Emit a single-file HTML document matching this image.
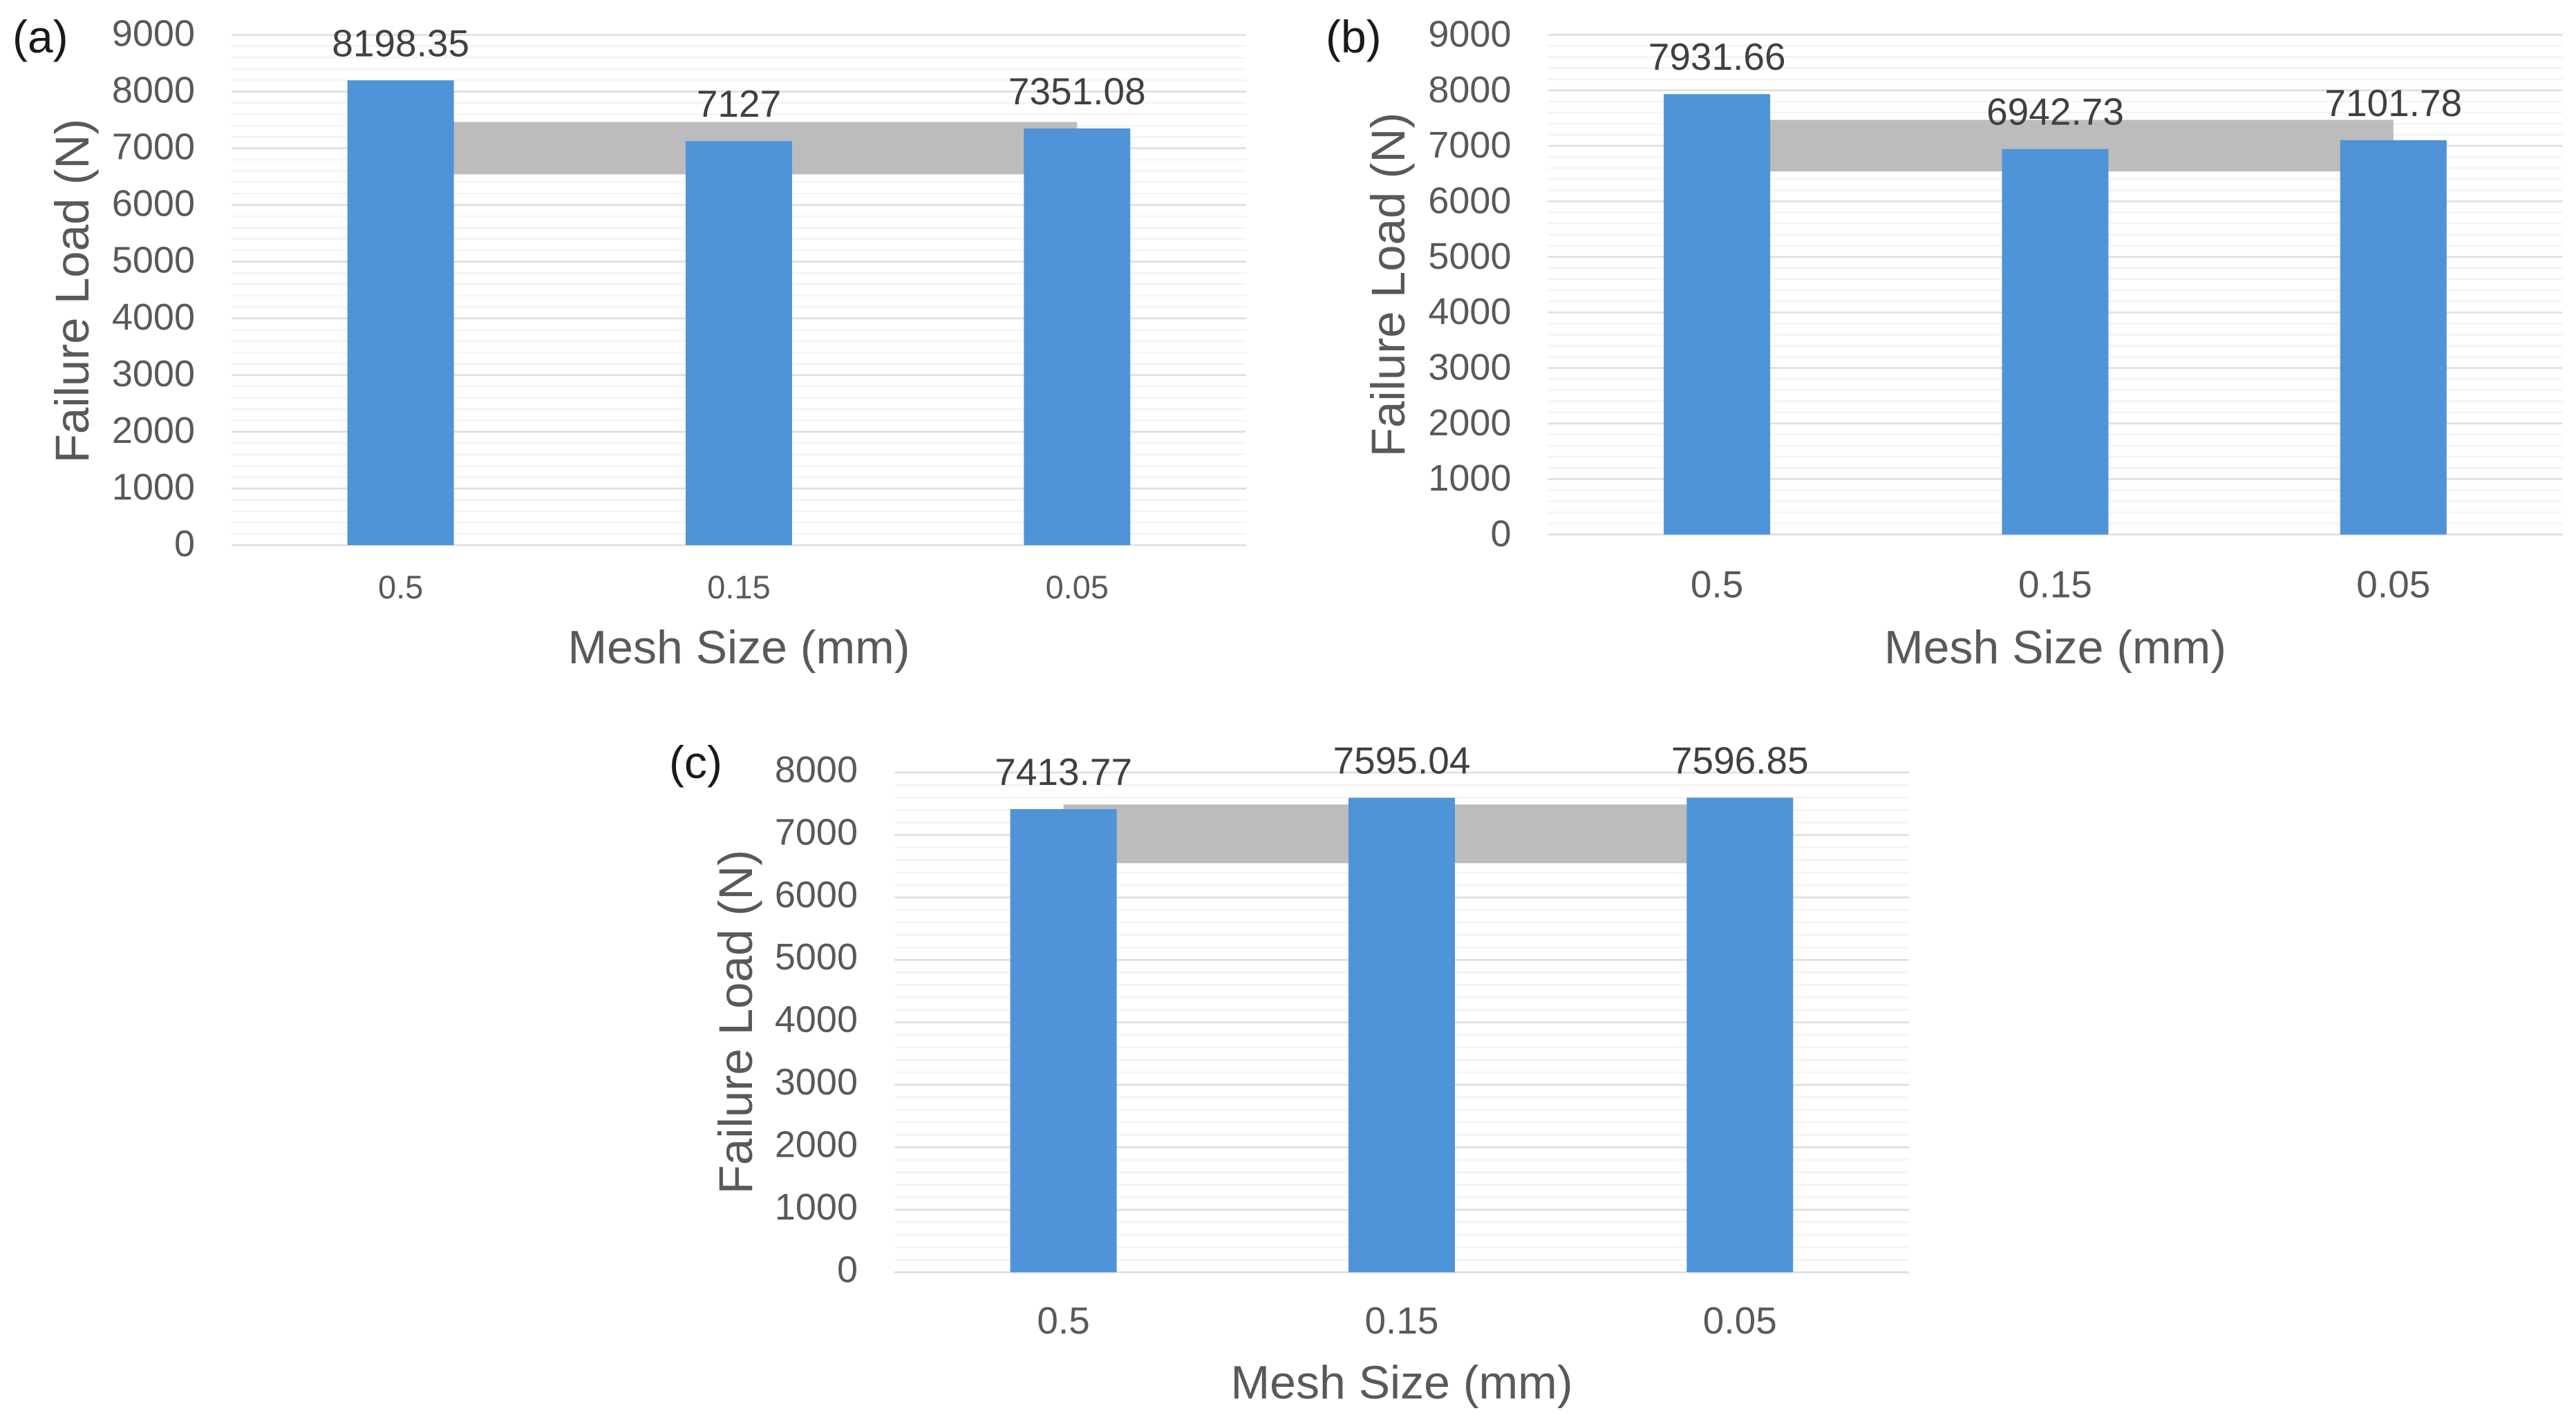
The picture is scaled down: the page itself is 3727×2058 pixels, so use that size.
<!DOCTYPE html>
<html lang="en">
<head>
<meta charset="utf-8">
<title>Failure Load vs Mesh Size</title>
<style>
  html, body { margin: 0; padding: 0; background: #ffffff; }
  svg { display: block; }
  text { font-family: "Liberation Sans", sans-serif; }
</style>
</head>
<body>
<svg id="figure" xmlns="http://www.w3.org/2000/svg" width="3727" height="2058" viewBox="0 0 3727 2058">
  <rect x="0" y="0" width="3727" height="2058" fill="#ffffff"></rect>
</svg>
<script>
const categories = ["0.5", "0.15", "0.05"];
const valuesA = [8198.35, 7127, 7351.08];
const valuesB = [7931.66, 6942.73, 7101.78];
const valuesC = [7413.77, 7595.04, 7596.85];
const ticksA = [0, 1000, 2000, 3000, 4000, 5000, 6000, 7000, 8000, 9000];
const ticksB = [0, 1000, 2000, 3000, 4000, 5000, 6000, 7000, 8000, 9000];
const ticksC = [0, 1000, 2000, 3000, 4000, 5000, 6000, 7000, 8000];
const bandA = [6540, 7465];
const bandB = [6540, 7468];
const bandC = [6548, 7488];
const xAxisTitle = "Mesh Size (mm)";
const yAxisTitle = "Failure Load (N)";
const minorDivisions = 5;

const NS = "http://www.w3.org/2000/svg";
const svg = document.getElementById("figure");

function make(tag, attrs, parent) {
  const node = document.createElementNS(NS, tag);
  for (const key in attrs) node.setAttribute(key, attrs[key]);
  parent.appendChild(node);
  return node;
}

function drawPanel(p) {
  const group = make("g", {}, svg);
  
  

  const maxTick = p.ticks[p.ticks.length - 1];
  const yScale = v => p.y0 - (v / maxTick) * (p.y0 - p.yTop);
  const xCenter = i => p.left + (i + 0.5) * (p.right - p.left) / p.categories.length;

  // panel letter
  const letter = make("text", { x: p.letterX, y: p.letterY, "font-size": 66, fill: "#1a1a1a" }, group);
  letter.textContent = "(" + p.id + ")";
  
  

  // minor gridlines
  const step = p.ticks[1] - p.ticks[0];
  for (let t = 0; t < p.ticks.length - 1; t++) {
    for (let m = 1; m < minorDivisions; m++) {
      const y = yScale(p.ticks[t] + (m * step) / minorDivisions);
      const minor = make("line", { x1: p.left, x2: p.right, y1: y, y2: y, stroke: "#f4f4f4", "stroke-width": 2.6 }, group);
      
      
    }
  }

  // major gridlines and tick labels
  p.ticks.forEach(tick => {
    const y = yScale(tick);
    const major = make("line", { x1: p.left, x2: p.right, y1: y, y2: y, stroke: "#dedede", "stroke-width": 2.6 }, group);
    
    

    const label = make("text", { x: p.left - 53, y: y + 18 + p.tickShift, "text-anchor": "end", "font-size": 54, fill: "#595959" }, group);
    label.textContent = String(tick);
    
    
  });

  // grey reference band
  const bandX1 = xCenter(0);
  const bandX2 = xCenter(p.categories.length - 1);
  const band = make("rect", { x: bandX1, y: yScale(p.band[1]), width: bandX2 - bandX1, height: yScale(p.band[0]) - yScale(p.band[1]), fill: "#bcbcbc" }, group);
  
  

  // bars and labels
  p.values.forEach((value, i) => {
    const cx = xCenter(i);
    const top = yScale(value);
    const bar = make("rect", { x: cx - p.barWidth / 2, y: top, width: p.barWidth, height: p.y0 - top, fill: "#4f93d9" }, group);
    
    

    const valueLabel = make("text", { x: cx, y: top - 35, "text-anchor": "middle", "font-size": 55, fill: "#404040" }, group);
    valueLabel.textContent = String(value);
    
    

    const catLabel = make("text", { x: cx, y: p.catY, "text-anchor": "middle", "font-size": p.catSize, fill: "#595959" }, group);
    catLabel.textContent = p.categories[i];
    
    
  });

  // axis titles
  const xTitle = make("text", { x: (p.left + p.right) / 2, y: p.xTitleY, "text-anchor": "middle", "font-size": 68, fill: "#595959" }, group);
  xTitle.textContent = xAxisTitle;
  
  

  const yTitle = make("text", { x: 0, y: 0, "text-anchor": "middle", "font-size": 69, fill: "#595959", transform: "translate(" + p.yTitleX + " " + p.yTitleY + ") rotate(-90)" }, group);
  yTitle.textContent = yAxisTitle;
  
  
}

drawPanel({ id: "a", categories: categories, values: valuesA, ticks: ticksA, band: bandA,
  left: 335, right: 1803, y0: 789, yTop: 50.5, barWidth: 154, tickShift: -2,
  catY: 866, catSize: 47, xTitleY: 960, yTitleX: 128, yTitleY: 421, letterX: 18, letterY: 76 });

drawPanel({ id: "b", categories: categories, values: valuesB, ticks: ticksB, band: bandB,
  left: 2239.5, right: 3707.5, y0: 773.6, yTop: 50.4, barWidth: 154, tickShift: -1,
  catY: 864.5, catSize: 55, xTitleY: 960, yTitleX: 2032, yTitleY: 412, letterX: 1918, letterY: 76 });

drawPanel({ id: "c", categories: categories, values: valuesC, ticks: ticksC, band: bandC,
  left: 1294, right: 2762, y0: 1841.3, yTop: 1118, barWidth: 154, tickShift: -4,
  catY: 1930, catSize: 55, xTitleY: 2024, yTitleX: 1088, yTitleY: 1479, letterX: 968, letterY: 1126 });
</script>
</body>
</html>
